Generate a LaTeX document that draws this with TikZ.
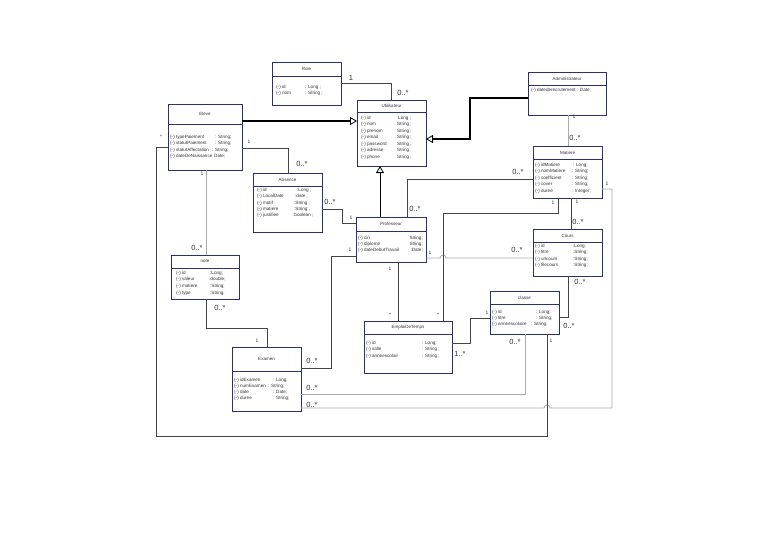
\documentclass[tikz,border=0pt]{standalone}
\usepackage{fontspec}
\setmainfont{Liberation Sans}
\usetikzlibrary{arrows.meta}
\definecolor{boxc}{HTML}{2B3070}
\definecolor{txtc}{HTML}{333333}
\definecolor{darkl}{HTML}{454545}
\definecolor{lightl}{HTML}{ABABAB}
\tikzset{
 box/.style={draw=boxc, line width=0.8pt, fill=white, inner sep=0pt, outer sep=0pt, anchor=north west},
 hdr/.style={draw=boxc, line width=0.8pt},
 ttl/.style={font=\fontsize{4.5}{5}\selectfont, text=txtc, inner sep=0pt},
 attr/.style={font=\fontsize{4.6}{5}\selectfont, text=txtc, inner sep=0pt, anchor=west},
 attre/.style={font=\fontsize{4.6}{5}\selectfont, text=txtc, inner sep=0pt, anchor=east},
 assoc/.style={draw=darkl, line width=0.8pt},
 assocg/.style={draw=lightl, line width=0.8pt},
 gen/.style={draw=black, line width=1.5pt, -{Triangle[open, length=7pt, width=8pt, line width=0.8pt]}},
 genthin/.style={draw=black, line width=0.9pt, -{Triangle[open, length=7pt, width=8pt, line width=0.8pt]}},
 mult/.style={font=\fontsize{7.5}{8}\selectfont, text=txtc, inner sep=0pt},
 mone/.style={font=\fontsize{5}{6}\selectfont, text=txtc, inner sep=0pt},
}
\newcommand\umlbox[7]{%
 \node[box, minimum width=#4pt, minimum height=#5pt] (#1) at (#2,#3) {};
 \draw[hdr] (#2,#3+#6) -- (#2+#4,#3+#6);
 \node[ttl] (#1-title) at (#2+#4/2,#3+#6/2) {#7};
}
\begin{document}
\begin{tikzpicture}[x=1pt,y=-1pt]
\useasboundingbox[fill=white] (0,0) rectangle (768,543);

% boxes
\umlbox{role}{272}{62}{69}{43}{14}{Role}
\umlbox{util}{357}{100}{69}{66}{12}{Utilisateur}
\umlbox{admin}{528}{72}{78}{43}{13}{Administrateur}
\umlbox{eleve}{168}{104}{74}{66}{20}{Eleve}
\umlbox{matiere}{533}{146}{69}{52}{13}{Matiere}
\umlbox{absence}{253}{173}{69}{59}{13}{Absence}
\umlbox{prof}{356}{217}{70}{45}{14}{Professeur}
\umlbox{note}{171}{255}{68}{44}{13}{note}
\umlbox{cours}{533}{229}{69}{47}{13}{Cours}
\umlbox{classe}{490}{291}{69}{43}{13}{classe}
\umlbox{edt}{364}{321}{88}{52}{13}{EmploiDeTemps}
\umlbox{examen}{232}{347}{69}{64}{24}{Examen}

% attributes
\node[attr] (r1) at (276,87) {(-) id};   \node[attr] (r1t) at (305,87) {: Long ;};
\node[attr] (r2) at (276,93) {(-) nom};  \node[attr] (r2t) at (305,93) {: String ;};

\node[attr] (u1) at (361,118) {(-) id};       \node[attr] (u1t) at (398,118) {Long ;};
\node[attr] (u2) at (361,124.5) {(-) nom};    \node[attr] (u2t) at (397,124.5) {String ;};
\node[attr] (u3) at (361,131) {(-) prenom};   \node[attr] (u3t) at (397,131) {String ;};
\node[attr] (u4) at (361,137.5) {(-) email};  \node[attr] (u4t) at (397,137.5) {String ;};
\node[attr] (u5) at (361,144) {(-) password}; \node[attr] (u5t) at (397,144) {String ;};
\node[attr] (u6) at (361,150.5) {(-) adresse};\node[attr] (u6t) at (397,150.5) {String ;};
\node[attr] (u7) at (361,157) {(-) phone};    \node[attr] (u7t) at (397,157) {String ;};

\node[attr] (a1) at (531,90) {(-) datederecrutement : Date;};

\node[attr] (e1) at (170,137) {(-) typePaiement};      \node[attr] (e1t) at (215,137) {: String;};
\node[attr] (e2) at (170,143.5) {(-) statutPaiement};  \node[attr] (e2t) at (215,143.5) {: String;};
\node[attr] (e3) at (170,150) {(-) statutAffectation}; \node[attr] (e3t) at (212,150) {: String;};
\node[attr] (e4) at (170,156.5) {(-) dateDeNaissance}; \node[attr] (e4t) at (214,156.5) {Date;};

\node[attr] (m1) at (535,165) {(-) idMatiere};    \node[attr] (m1t) at (573,165) {: Long;};
\node[attr] (m2) at (535,171.5) {(-) nomMatiere}; \node[attr] (m2t) at (572,171.5) {: String;};
\node[attr] (m3) at (535,178) {(-) coefficient};  \node[attr] (m3t) at (572,178) {: String;};
\node[attr] (m4) at (535,184.5) {(-) cover};      \node[attr] (m4t) at (572,184.5) {: String;};
\node[attr] (m5) at (535,191) {(-) duree};        \node[attr] (m5t) at (572,191) {: Integer;};

\node[attr] (b1) at (257,190) {(-) id};        \node[attr] (b1t) at (297,190) {:Long ;};
\node[attr] (b2) at (257,196) {(-) LocalDate}; \node[attr] (b2t) at (295,196) {:date ;};
\node[attr] (b3) at (257,203) {(-) motif};     \node[attr] (b3t) at (294,203) {:String ;};
\node[attr] (b4) at (257,209) {(-) matiere};   \node[attr] (b4t) at (294,209) {:String ;};
\node[attr] (b5) at (257,215) {(-) justifiee}; \node[attr] (b5t) at (293,215) {:boolean ;};

\node[attr] (p1) at (358,238) {(-) cin};              \node[attre] (p1t) at (423,238) {String;};
\node[attr] (p2) at (358,244) {(-) diplome};          \node[attre] (p2t) at (423,244) {String;};
\node[attr] (p3) at (358,250) {(-) dateDebutTravail}; \node[attre] (p3t) at (423,250) {:Date;};

\node[attr] (n1) at (176,273) {(-) id};         \node[attr] (n1t) at (210,273) {:Long;};
\node[attr] (n2) at (176,279.5) {(-) valeur};   \node[attr] (n2t) at (209,279.5) {:double;};
\node[attr] (n3) at (176,286.5) {(-) matiere};  \node[attr] (n3t) at (210,286.5) {:String;};
\node[attr] (n4) at (176,293) {(-) type};       \node[attr] (n4t) at (210,293) {:String;};

\node[attr] (c1) at (535,246) {(-) id};          \node[attr] (c1t) at (573,246) {:Long;};
\node[attr] (c2) at (535,252.5) {(-) titre};     \node[attr] (c2t) at (573,252.5) {:String;};
\node[attr] (c3) at (535,259) {(-) urlcours};    \node[attr] (c3t) at (573,259) {:String;};
\node[attr] (c4) at (535,265.5) {(-) filecours}; \node[attr] (c4t) at (573,265.5) {:String;};

\node[attr] (k1) at (492,312) {(-) id};              \node[attr] (k1t) at (536,312) {: Long;};
\node[attr] (k2) at (492,318) {(-) titre};           \node[attr] (k2t) at (536,318) {: String;};
\node[attr] (k3) at (492,324.5) {(-) anneescolaire}; \node[attr] (k3t) at (531,324.5) {: String;};

\node[attr] (t1) at (366,343) {(-) id};             \node[attr] (t1t) at (422,343) {: Long;};
\node[attr] (t2) at (366,349.5) {(-) salle};        \node[attr] (t2t) at (422,349.5) {: String ;};
\node[attr] (t3) at (366,356) {(-) anneescolair};   \node[attr] (t3t) at (422,356) {: String ;};

\node[attr] (x1) at (234,380) {(-) idExamen};    \node[attr] (x1t) at (273,380) {: Long;};
\node[attr] (x2) at (234,386) {(-) numExamen};   \node[attr] (x2t) at (268,386) {: String;};
\node[attr] (x3) at (234,392) {(-) date};        \node[attr] (x3t) at (273,392) {: Date;};
\node[attr] (x4) at (234,398) {(-) duree};       \node[attr] (x4t) at (273,398) {: String;};

% generalizations
\draw[gen] (eleve.east |- 0,121) -- (util.west |- 0,121);
\draw[gen] (admin.west |- 0,98) -- (470,98) |- (util.east |- 0,139);
\draw[genthin] (prof.north -| 380,0) -- (util.south -| 380,0);

% associations
\draw[assoc] (role.east) -| (util.north);
\draw[assoc] (eleve.east |- 0,148) -| (absence.north -| 288,0);
\draw[assocg] (eleve.south -| 206,0) -- (note.north -| 206,0);
\draw[assoc] (note.south -| 206,0) |- (267,328) -- (examen.north -| 267,0);
\draw[assoc] (absence.east |- 0,209) -| (342,223) -- (prof.west |- 0,223);
\draw[assoc] (prof.north -| 407,0) |- (matiere.west |- 0,179);
\draw[assocg] (prof.east |- 0,258) -- (440,258) arc[start angle=180, end angle=0, radius=3pt] -- (cours.west |- 0,258);
\draw[assoc] (prof.south -| 398,0) -- (edt.north -| 398,0);
\draw[assoc] (matiere.south -| 558,0) |- (443,213) -- (edt.north -| 443,0);
\draw[assoc] (matiere.south -| 571,0) -- (cours.north -| 571,0);
\draw[assocg] (admin.south -| 568,0) -- (matiere.north -| 568,0);
\draw[assoc] (cours.south -| 568,0) |- (classe.east |- 0,317);
\draw[assoc] (edt.east |- 0,343) -| (470,318) -- (classe.west |- 0,318);
\draw[assoc] (examen.east |- 0,368) -| (331,256) -- (prof.west |- 0,256);
\draw[assocg] (examen.east |- 0,394) -| (classe.south -| 525,0);
\draw[assocg] (examen.east |- 0,408) -- (544,408) arc[start angle=180, end angle=0, radius=3pt] -- (612,408) |- (matiere.east |- 0,189);
\draw[assoc] (eleve.west |- 0,147) -| (156,436) -| (classe.south -| 547,0);

% multiplicities
\node[mult] (l1) at (351,78) {1};
\node[mult] (l2) at (403,93) {0..*};
\node[mone] (l3) at (249,142) {1};
\node[mult] (l4) at (302,164) {0..*};
\node[mone] (l5) at (161,137) {*};
\node[mone] (l6) at (202,174) {1};
\node[mult] (l7) at (197,248) {0..*};
\node[mult] (l8) at (220,308) {0..*};
\node[mone] (l9) at (257,341) {1};
\node[mult] (l10) at (330,202) {0..*};
\node[mone] (l11) at (351,218) {1};
\node[mult] (l12) at (415,209) {0..*};
\node[mult] (l13) at (518,172) {0..*};
\node[mone] (l14) at (430,253) {1};
\node[mult] (l15) at (517,250) {0..*};
\node[mone] (l16) at (390,269) {1};
\node[mone] (l17) at (390,315) {*};
\node[mone] (l18) at (553,203) {1};
\node[mone] (l19) at (438,315) {*};
\node[mone] (l20) at (577,202) {1};
\node[mult] (l21) at (578,222) {0..*};
\node[mone] (l22) at (574,117) {1};
\node[mult] (l23) at (575,138) {0..*};
\node[mult] (l24) at (580,282) {0..*};
\node[mult] (l25) at (569,326) {0..*};
\node[mult] (l26) at (460,354) {1..*};
\node[mone] (l27) at (487,313) {1};
\node[mult] (l28) at (312,361) {0..*};
\node[mone] (l29) at (350,250) {1};
\node[mult] (l30) at (312,388) {0..*};
\node[mult] (l31) at (515,342) {0..*};
\node[mult] (l32) at (312,405) {0..*};
\node[mone] (l33) at (607,184) {1};
\node[mone] (l34) at (551,341) {1};
\end{tikzpicture}
\end{document}
